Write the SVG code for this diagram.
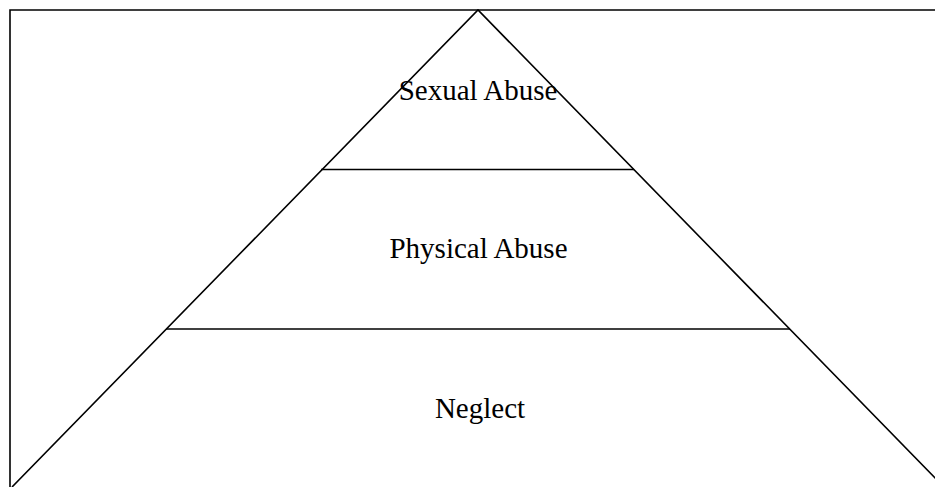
<svg xmlns="http://www.w3.org/2000/svg" width="935" height="487" viewBox="0 0 935 487">
<style>
.ln{stroke:#000;stroke-width:1.6;fill:none}
.lbl{font-family:"Liberation Serif","Times New Roman",serif;font-size:29px;fill:#000;text-anchor:middle}
</style>
<rect x="0" y="0" width="935" height="487" fill="#fff"/>
<g id="frame">
<polyline class="ln" points="10,487 10,10 935,10"/>
</g>
<g id="pyramid">
<polyline class="ln" points="12,487 478,10 944,487"/>
</g>
<g id="connectors">
<line class="ln" x1="321" y1="169.5" x2="634" y2="169.5"/>
<line class="ln" x1="166" y1="329" x2="790" y2="329"/>
</g>
<g id="sexual-abuse">
<text class="lbl" x="478" y="100">Sexual Abuse</text>
</g>
<g id="physical-abuse">
<text class="lbl" x="478.5" y="258">Physical Abuse</text>
</g>
<g id="neglect">
<text class="lbl" x="480" y="418">Neglect</text>
</g>
</svg>
